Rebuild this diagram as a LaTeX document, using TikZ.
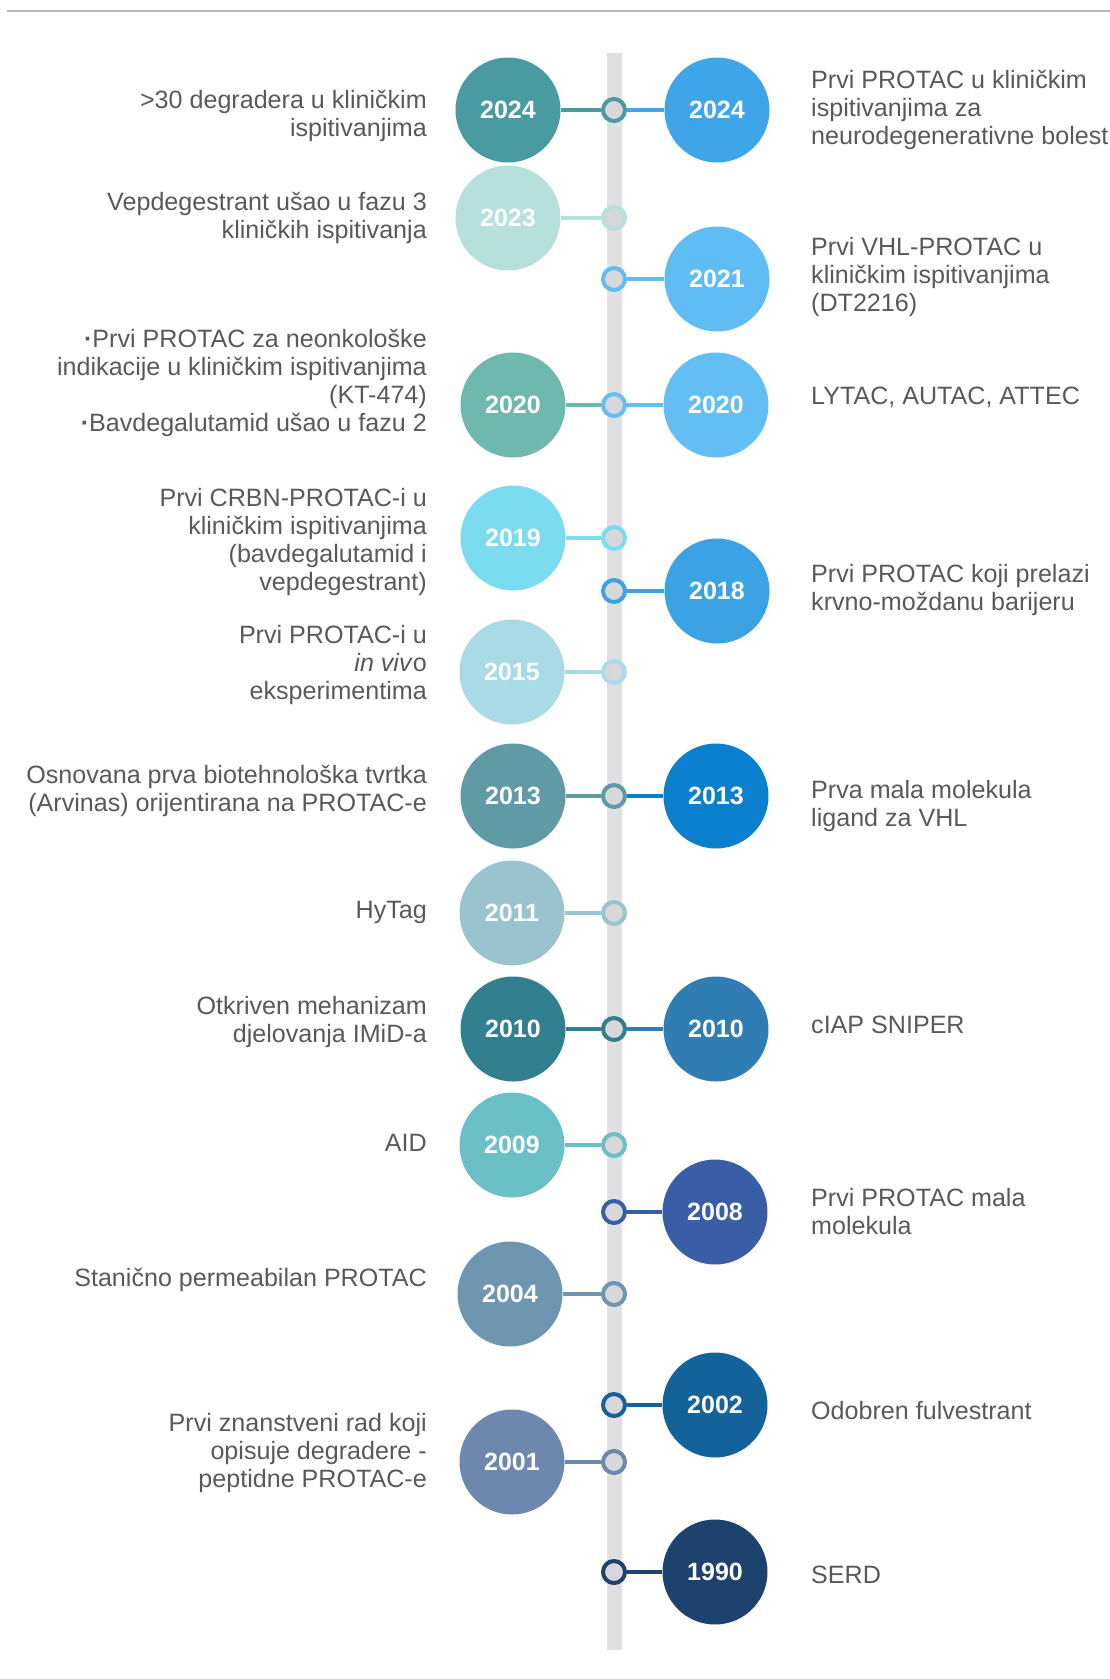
\documentclass[tikz,border=0pt]{standalone}
\usepackage{fontspec}
\setmainfont{Liberation Sans}
\definecolor{txtgray}{HTML}{595959}
\definecolor{bargray}{HTML}{E0E0E2}
\definecolor{dotgray}{HTML}{D8D8DA}
\definecolor{topgray}{HTML}{B8B8B8}
\definecolor{cLa}{HTML}{4A9BA1}
\definecolor{cLb}{HTML}{B5E0DC}
\definecolor{cLc}{HTML}{6FB8AD}
\definecolor{cLd}{HTML}{7BDCEF}
\definecolor{cLe}{HTML}{A8DBE5}
\definecolor{cLf}{HTML}{5F9AA5}
\definecolor{cLg}{HTML}{99C4CE}
\definecolor{cLh}{HTML}{327F8F}
\definecolor{cLi}{HTML}{6AC0C6}
\definecolor{cLj}{HTML}{6F96B0}
\definecolor{cLk}{HTML}{6E87AE}
\definecolor{cRa}{HTML}{3EA6E8}
\definecolor{cRb}{HTML}{5FBDF4}
\definecolor{cRc}{HTML}{62BEF3}
\definecolor{cRd}{HTML}{3BA2E3}
\definecolor{cRe}{HTML}{0A7FCE}
\definecolor{cRf}{HTML}{2F7DB2}
\definecolor{cRg}{HTML}{3A5EA5}
\definecolor{cRh}{HTML}{13629A}
\definecolor{cRi}{HTML}{1E426E}
\tikzset{
  yr/.style={circle, minimum size=105pt, inner sep=0pt, text=white,
    font=\fontsize{25}{25}\selectfont\bfseries, fill=#1},
  tdot/.style={circle, minimum size=22pt, inner sep=0pt, fill=dotgray, draw=#1, line width=4pt},
  conn/.style={draw=#1, line width=4pt},
  ltxt/.style={anchor=east, align=right, text=txtgray, inner sep=0pt,
    font=\fontsize{25.1}{28}\selectfont},
  rtxt/.style={anchor=west, align=left, text=txtgray, inner sep=0pt,
    font=\fontsize{25.1}{28}\selectfont},
}
\begin{document}
\begin{tikzpicture}[x=1pt,y=-1pt]
\useasboundingbox (0,0) rectangle (1110,1679);
\draw[topgray, line width=2pt] (7,11) -- (1110,11);
\fill[bargray] (607,53) rectangle (622,1650);

% dots
\node[tdot=cLa] (d2024) at (614,110) {};
\node[tdot=cLb] (d2023) at (614,218) {};
\node[tdot=cRb] (d2021) at (614,279) {};
\node[tdot=cRc] (d2020) at (614,405) {};
\node[tdot=cLd] (d2019) at (614,538) {};
\node[tdot=cRd] (d2018) at (614,591) {};
\node[tdot=cLe] (d2015) at (614,672) {};
\node[tdot=cLf] (d2013) at (614,796) {};
\node[tdot=cLg] (d2011) at (614,913) {};
\node[tdot=cLh] (d2010) at (614,1029) {};
\node[tdot=cLi] (d2009) at (614,1145) {};
\node[tdot=cRg] (d2008) at (614,1212) {};
\node[tdot=cLj] (d2004) at (614,1294) {};
\node[tdot=cRh] (d2002) at (614,1405) {};
\node[tdot=cLk] (d2001) at (614,1462) {};
\node[tdot=cRi] (d1990) at (614,1572) {};

% left circles
\node[yr=cLa] (l2024) at (508,110) {2024};
\node[yr=cLb] (l2023) at (508,218) {2023};
\node[yr=cLc] (l2020) at (513,405) {2020};
\node[yr=cLd] (l2019) at (513,538) {2019};
\node[yr=cLe] (l2015) at (512,672) {2015};
\node[yr=cLf] (l2013) at (513,796) {2013};
\node[yr=cLg] (l2011) at (512,913) {2011};
\node[yr=cLh] (l2010) at (513,1029) {2010};
\node[yr=cLi] (l2009) at (512,1145) {2009};
\node[yr=cLj] (l2004) at (510,1294) {2004};
\node[yr=cLk] (l2001) at (512,1462) {2001};

% right circles
\node[yr=cRa] (r2024) at (717,110) {2024};
\node[yr=cRb] (r2021) at (717,279) {2021};
\node[yr=cRc] (r2020) at (716,405) {2020};
\node[yr=cRd] (r2018) at (717,591) {2018};
\node[yr=cRe] (r2013) at (716,796) {2013};
\node[yr=cRf] (r2010) at (716,1029) {2010};
\node[yr=cRg] (r2008) at (715,1212) {2008};
\node[yr=cRh] (r2002) at (715,1405) {2002};
\node[yr=cRi] (r1990) at (715,1572) {1990};

% connectors
\draw[conn=cLa] (l2024) -- (d2024);
\draw[conn=cRa] (r2024) -- (d2024);
\draw[conn=cLb] (l2023) -- (d2023);
\draw[conn=cRb] (r2021) -- (d2021);
\draw[conn=cLc] (l2020) -- (d2020);
\draw[conn=cRc] (r2020) -- (d2020);
\draw[conn=cLd] (l2019) -- (d2019);
\draw[conn=cRd] (r2018) -- (d2018);
\draw[conn=cLe] (l2015) -- (d2015);
\draw[conn=cLf] (l2013) -- (d2013);
\draw[conn=cRe] (r2013) -- (d2013);
\draw[conn=cLg] (l2011) -- (d2011);
\draw[conn=cLh] (l2010) -- (d2010);
\draw[conn=cRf] (r2010) -- (d2010);
\draw[conn=cLi] (l2009) -- (d2009);
\draw[conn=cRg] (r2008) -- (d2008);
\draw[conn=cLj] (l2004) -- (d2004);
\draw[conn=cRh] (r2002) -- (d2002);
\draw[conn=cLk] (l2001) -- (d2001);
\draw[conn=cRi] (r1990) -- (d1990);

% left texts
\node[ltxt] (t1) at (427,116) {>30 degradera u kliničkim\\ispitivanjima};
\node[ltxt] (t2) at (427,218) {Vepdegestrant ušao u fazu 3\\kliničkih ispitivanja};
\node[ltxt] (t3) at (427,383) {{\bfseries ·}Prvi PROTAC za neonkološke\\indikacije u kliničkim ispitivanjima\\(KT-474)\\{\bfseries ·}Bavdegalutamid ušao u fazu 2};
\node[ltxt] (t4) at (427,542) {Prvi CRBN-PROTAC-i u\\kliničkim ispitivanjima\\(bavdegalutamid i\\vepdegestrant)};
\node[ltxt] (t5) at (427,665) {Prvi PROTAC-i u\\\textit{in viv}o\\eksperimentima};
\node[ltxt] (t6) at (427,791) {Osnovana prva biotehnološka tvrtka\\(Arvinas) orijentirana na PROTAC-e};
\node[ltxt] (t7) at (427,912) {HyTag};
\node[ltxt] (t8) at (427,1022) {Otkriven mehanizam\\djelovanja IMiD-a};
\node[ltxt] (t9) at (427,1143) {AID};
\node[ltxt] (t10) at (427,1280) {Stanično permeabilan PROTAC};
\node[ltxt] (t11) at (427,1453) {Prvi znanstveni rad koji\\opisuje degradere -\\peptidne PROTAC-e};

% right texts
\node[rtxt] (s1) at (811,110) {Prvi PROTAC u kliničkim\\ispitivanjima za\\neurodegenerativne bolest};
\node[rtxt] (s2) at (811,277) {Prvi VHL-PROTAC u\\kliničkim ispitivanjima\\(DT2216)};
\node[rtxt] (s3) at (811,397) {LYTAC, AUTAC, ATTEC};
\node[rtxt] (s4) at (811,590) {Prvi PROTAC koji prelazi\\krvno-moždanu barijeru};
\node[rtxt] (s5) at (811,806) {Prva mala molekula\\ligand za VHL};
\node[rtxt] (s6) at (811,1025) {cIAP SNIPER};
\node[rtxt] (s7) at (811,1212) {Prvi PROTAC mala\\molekula};
\node[rtxt] (s8) at (811,1411) {Odobren fulvestrant};
\node[rtxt] (s9) at (811,1575) {SERD};
\end{tikzpicture}
\end{document}
